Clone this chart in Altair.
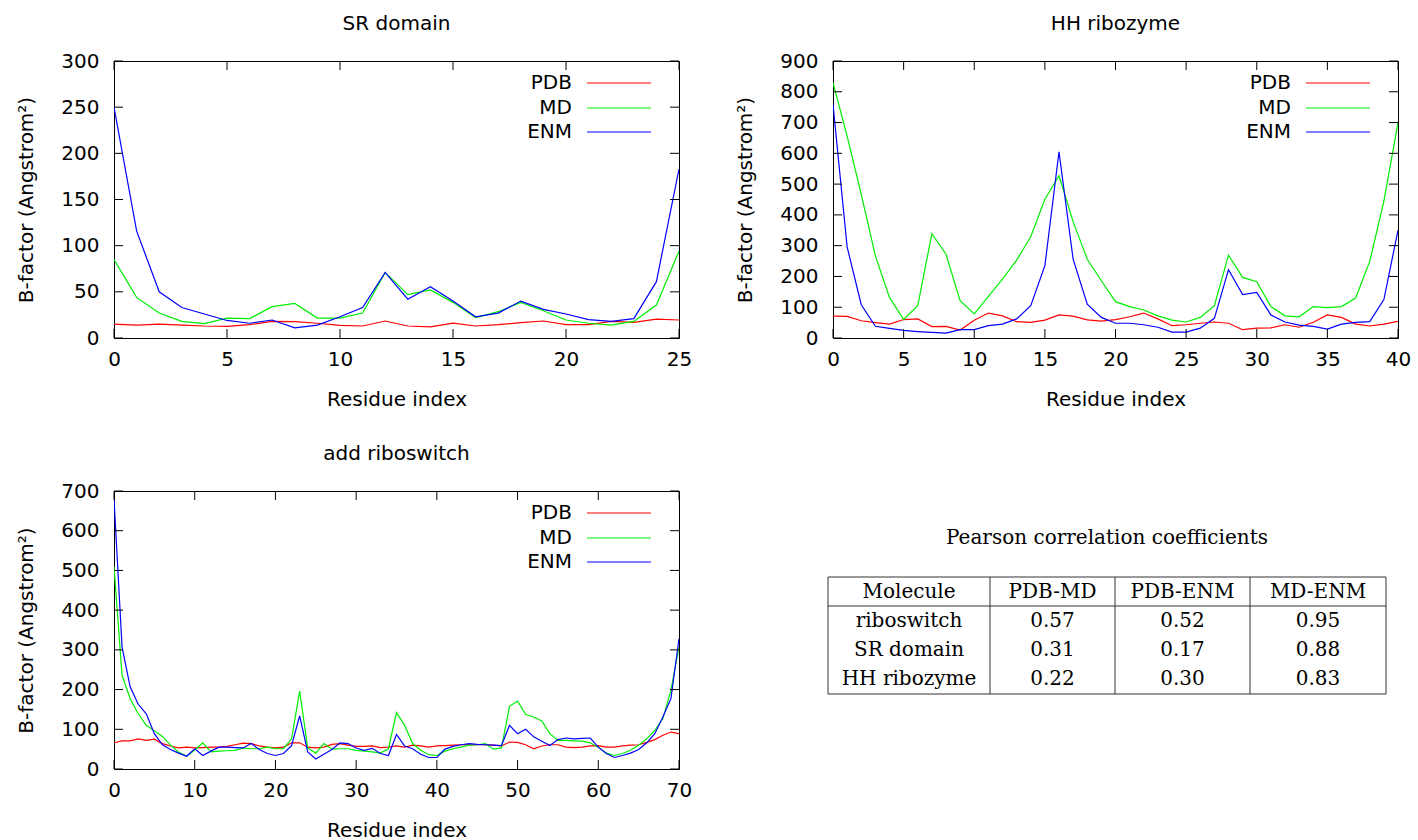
import altair as alt
import pandas as pd

# ---------------- data ----------------
series_names = ["PDB", "MD", "ENM"]
series_colors = ["#ff0000", "#00ee00", "#0000ff"]

sr_pdb = [15, 14, 15, 14, 13, 12.6, 14.4, 18, 17.7, 16, 13.7, 13, 18.4, 13, 12, 16, 13, 14.4, 16.6, 18.4,
          14.4, 14.4, 18, 17, 20.5, 19.5]
sr_md = [85, 44, 27, 18, 15.5, 21.6, 21, 34, 37.5, 21.6, 21.6, 27, 71, 47, 52, 38.6, 22, 28.5, 38.6, 29.5,
         19.5, 16, 14, 18, 35.7, 94]
sr_enm = [250, 116, 50, 33, 26, 19, 16, 19.5, 11, 14, 23, 33, 71, 42, 55.5, 40, 23, 27, 40, 31,
          26, 20, 18, 21, 61, 183]

hh_pdb = [71, 70, 56, 50, 45, 60, 62, 37, 38, 26, 58, 81, 72, 53, 51, 58, 75, 71, 59, 55,
          60, 69, 81, 62, 40, 43, 48, 52, 48, 27, 32, 33, 43, 35, 51, 75, 67, 45, 39, 45, 54]
hh_md = [830, 656, 467, 267, 132, 60, 105, 339, 272, 121, 78, 135, 191, 253, 329, 451, 527, 378, 256, 186,
         118, 102, 91, 72, 58, 52, 67, 105, 269, 197, 183, 102, 72, 69, 102, 99, 102, 130, 249, 445, 699]
hh_enm = [759, 296, 108, 38, 31, 25, 21, 18, 16, 27, 27, 40, 45, 62, 105, 235, 605, 256, 110, 67,
          48, 48, 43, 35, 19, 19, 32, 64, 222, 141, 148, 75, 52, 42, 38, 29, 45, 51, 53, 125, 350]

rb_pdb = [66, 71, 71, 76, 72, 75, 64, 58, 53, 55, 53, 54, 55, 55, 57, 61, 65, 64, 58, 55,
          53, 55, 66, 66, 55, 53, 55, 62, 64, 60, 57, 57, 58, 54, 55, 58, 55, 60, 58, 55,
          58, 59, 60, 61, 61, 61, 61, 60, 58, 68, 67, 61, 51, 58, 61, 61, 55, 54, 55, 58,
          59, 55, 55, 58, 60, 61, 67, 74, 85, 93, 89]
rb_md = [510, 236, 177, 139, 110, 96, 82, 60, 43, 32, 48, 66, 43, 45, 46, 47, 53, 51, 51, 55,
         51, 51, 76, 196, 53, 40, 64, 50, 51, 51, 47, 45, 43, 40, 51, 142, 110, 64, 47, 36,
         34, 45, 51, 55, 60, 61, 64, 50, 53, 158, 171, 138, 131, 121, 89, 72, 72, 71, 70, 66,
         55, 40, 34, 39, 47, 60, 76, 97, 127, 198, 307]
rb_enm = [680, 307, 207, 163, 139, 89, 61, 49, 40, 32, 51, 34, 45, 55, 55, 54, 53, 64, 49, 39,
          34, 39, 59, 134, 43, 25, 37, 49, 66, 64, 53, 47, 52, 39, 34, 87, 58, 51, 37, 29,
          29, 50, 57, 61, 64, 62, 61, 60, 59, 110, 89, 100, 81, 70, 59, 74, 78, 76, 77, 78,
          55, 39, 29, 34, 40, 49, 66, 89, 131, 177, 328]

table_title = "Pearson correlation coefficients"
table_header = ["Molecule", "PDB-MD", "PDB-ENM", "MD-ENM"]
molecules = ["riboswitch", "SR domain", "HH ribozyme"]
pdb_md = ["0.57", "0.31", "0.22"]
pdb_enm = ["0.52", "0.17", "0.30"]
md_enm = ["0.95", "0.88", "0.83"]

# ---------------- style ----------------
SANS = "DejaVu Sans"
SERIF = "DejaVu Serif"
FS = 20
W, H = 565, 277
TICK = 9


def panel(title, xmax, xstep, ymax, ystep, pdb, md, enm, h=H):
    rows = []
    for name, vals in zip(series_names, [pdb, md, enm]):
        for i, v in enumerate(vals):
            rows.append({"idx": i, "value": v, "series": name})
    df = pd.DataFrame(rows)
    xticks = list(range(0, xmax + 1, xstep))
    yticks = list(range(0, ymax + 1, ystep))
    xs = alt.Scale(domain=[0, xmax], nice=False, zero=False)
    ys = alt.Scale(domain=[0, ymax], nice=False)
    xax = alt.Axis(values=xticks, ticks=False, domain=False, grid=False,
                   labelFlush=False, labelPadding=11, titlePadding=20)
    yax = alt.Axis(values=yticks, ticks=False, domain=False, grid=False,
                   labelFlush=False, labelPadding=15, titlePadding=24)
    xtitle = "Residue index"
    ytitle = "B-factor (Angstrom²)"

    lines = alt.Chart(df).mark_line(strokeWidth=1.2, clip=True).encode(
        x=alt.X("idx:Q", scale=xs, title=xtitle, axis=xax),
        y=alt.Y("value:Q", scale=ys, title=ytitle, axis=yax),
        color=alt.Color("series:N", scale=alt.Scale(domain=series_names, range=series_colors),
                        legend=None),
        order=alt.Order("idx:Q"),
    )
    xt = pd.DataFrame({"t": xticks})
    yt = pd.DataFrame({"t": yticks})
    tb = alt.Chart(xt).mark_rule(color="black", strokeWidth=1).encode(
        x=alt.X("t:Q", scale=xs, title=xtitle, axis=xax), y=alt.value(h), y2=alt.value(h - TICK))
    tt = alt.Chart(xt).mark_rule(color="black", strokeWidth=1).encode(
        x=alt.X("t:Q", scale=xs, title=xtitle, axis=xax), y=alt.value(0), y2=alt.value(TICK))
    tl = alt.Chart(yt).mark_rule(color="black", strokeWidth=1).encode(
        y=alt.Y("t:Q", scale=ys, title=ytitle, axis=yax), x=alt.value(0), x2=alt.value(TICK))
    tr = alt.Chart(yt).mark_rule(color="black", strokeWidth=1).encode(
        y=alt.Y("t:Q", scale=ys, title=ytitle, axis=yax), x=alt.value(W), x2=alt.value(W - TICK))

    leg = []
    for i, (name, col) in enumerate(zip(series_names, series_colors)):
        yy = [22, 47, 71][i]
        ldf = pd.DataFrame({"s": [name]})
        leg.append(alt.Chart(ldf).mark_text(align="right", baseline="middle", font=SANS,
                                            fontSize=FS, color="black").encode(
            text="s:N", x=alt.value(458), y=alt.value(yy)))
        leg.append(alt.Chart(ldf).mark_rule(color=col, strokeWidth=1.2).encode(
            x=alt.value(473), x2=alt.value(537), y=alt.value(yy)))

    return alt.layer(lines, tb, tt, tl, tr, *leg).properties(
        width=W, height=h,
        title=alt.TitleParams(title, font=SANS, fontSize=FS, fontWeight="normal",
                              anchor="middle", frame="group", offset=17, color="black"),
    )


sr = panel("SR domain", 25, 5, 300, 50, sr_pdb, sr_md, sr_enm)
hh = panel("HH ribozyme", 40, 5, 900, 100, hh_pdb, hh_md, hh_enm)
rb = panel("add riboswitch", 70, 10, 700, 100, rb_pdb, rb_md, rb_enm, h=278)

# ---------------- table ----------------
TW, TH = 558, 210
col_w = [162, 125, 135, 136]
col_edges = [sum(col_w[:k]) for k in range(len(col_w) + 1)]
col_centers = [(col_edges[k] + col_edges[k + 1]) / 2 for k in range(len(col_w))]
t_title, t_top, t_head, t_bot = 47, 86, 115, 203
row_centers = [100.5, 129.5, 158.5, 187.5]

cells = []
for c, htxt in enumerate(table_header):
    cells.append({"x": col_centers[c], "y": row_centers[0], "t": htxt})
for r in range(len(molecules)):
    vals = [molecules[r], pdb_md[r], pdb_enm[r], md_enm[r]]
    for c, v in enumerate(vals):
        cells.append({"x": col_centers[c], "y": row_centers[r + 1], "t": v})
cells.append({"x": TW / 2, "y": t_title, "t": table_title})
cdf = pd.DataFrame(cells)

lines_t = [
    {"x": 0, "x2": TW, "y": t_top, "y2": t_top},
    {"x": 0, "x2": TW, "y": t_head, "y2": t_head},
    {"x": 0, "x2": TW, "y": t_bot, "y2": t_bot},
]
for e in col_edges:
    lines_t.append({"x": e, "x2": e, "y": t_top, "y2": t_bot})
ldf_t = pd.DataFrame(lines_t)

txs = alt.Scale(domain=[0, TW], nice=False, zero=False)
tys = alt.Scale(domain=[0, TH], nice=False, reverse=True)

ttext = alt.Chart(cdf).mark_text(font=SERIF, fontSize=FS, color="black", baseline="middle").encode(
    x=alt.X("x:Q", scale=txs, axis=None), y=alt.Y("y:Q", scale=tys, axis=None), text="t:N")
trules = alt.Chart(ldf_t).mark_rule(color="#333333", strokeWidth=1).encode(
    x=alt.X("x:Q", scale=txs, axis=None), x2="x2:Q",
    y=alt.Y("y:Q", scale=tys, axis=None), y2="y2:Q")
table = alt.layer(trules, ttext).properties(
    width=TW, height=TH, view=alt.ViewBackground(strokeOpacity=0))

row1 = alt.hconcat(sr, hh, spacing=42)
row2 = alt.hconcat(rb, table, spacing=134)
chart = alt.vconcat(row1, row2, spacing=33).properties(
    padding={"left": 16, "top": 13, "right": 0, "bottom": 0}, background="white"
).configure_view(stroke="black", strokeWidth=1).configure_axis(
    labelFont=SANS, labelFontSize=FS, labelColor="black",
    titleFont=SANS, titleFontSize=FS, titleFontWeight="normal", titleColor="black",
)

chart.save("out.html", embed_options={"renderer": "svg", "actions": False})
